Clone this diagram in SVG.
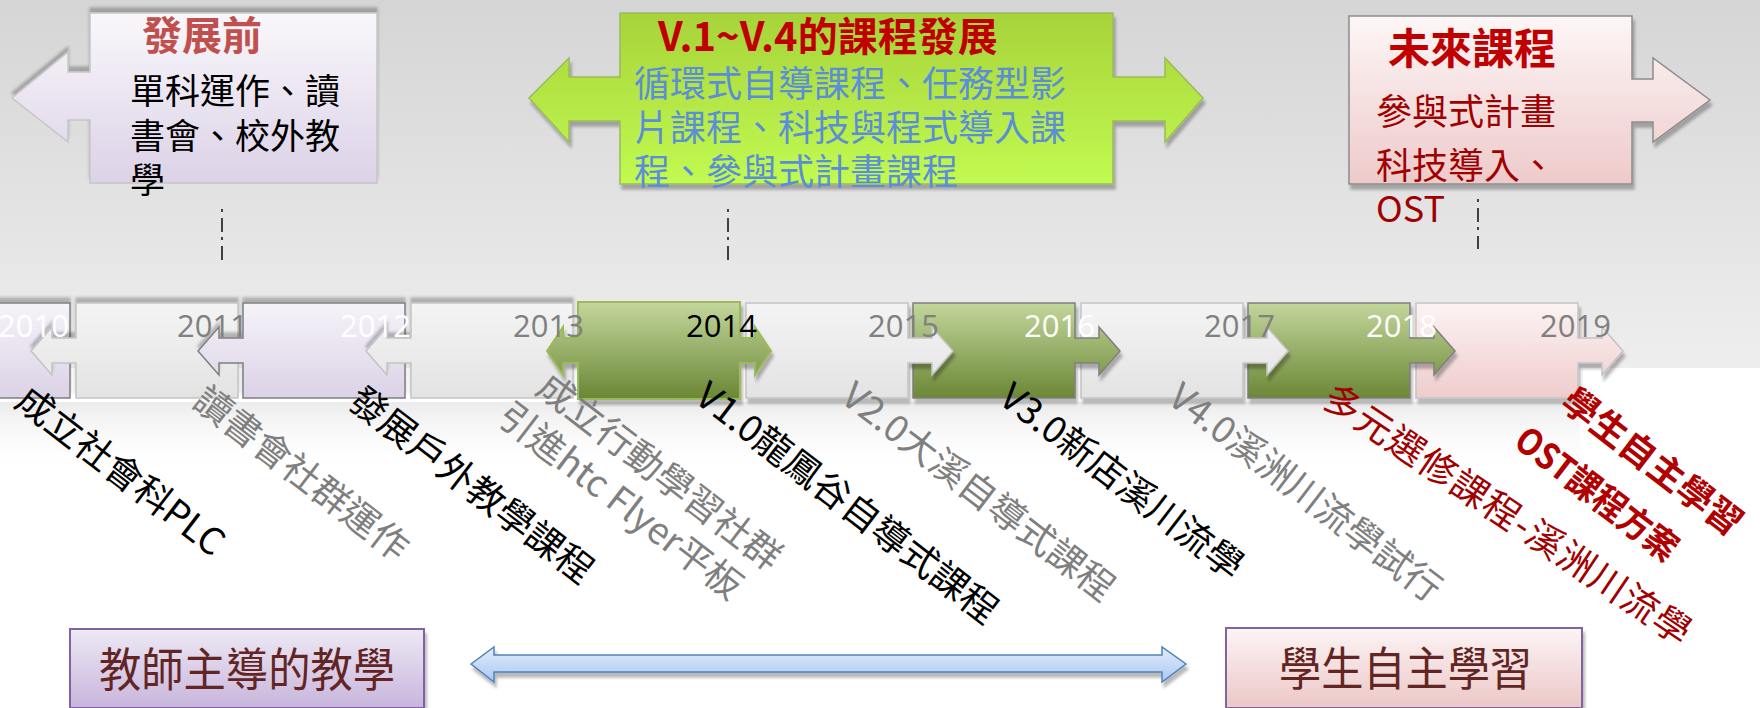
<svg xmlns="http://www.w3.org/2000/svg" width="1760" height="708" viewBox="0 0 1760 708">
<defs>
<style>
.cjk{font-family:"Noto Sans CJK TC","Noto Sans CJK SC",sans-serif}
.yr{font-family:"Open Sans","Liberation Sans",sans-serif;font-size:31px}
.lbl{font-family:"Noto Sans CJK TC","Noto Sans CJK SC",sans-serif;font-size:37px}
.gray{fill:#7f7f7f}
.blk{fill:#000}
.red{fill:#a00000}
.dot{stroke:#404040;stroke-width:2;stroke-dasharray:3 6 14 5;fill:none}
</style>
<linearGradient id="bg" x1="0" y1="0" x2="0" y2="1"><stop offset="0" stop-color="#d5d5d5"/><stop offset="1" stop-color="#eeeeee"/></linearGradient>
<linearGradient id="refl" x1="0" y1="0" x2="0" y2="1"><stop offset="0" stop-color="#e6e6e6" stop-opacity="0.8"/><stop offset="1" stop-color="#ffffff" stop-opacity="0"/></linearGradient>
<linearGradient id="tPurple" gradientUnits="userSpaceOnUse" x1="0" y1="303" x2="0" y2="398"><stop offset="0" stop-color="#f6f3f9"/><stop offset="1" stop-color="#dbd2e6"/></linearGradient>
<linearGradient id="tGray" gradientUnits="userSpaceOnUse" x1="0" y1="303" x2="0" y2="398"><stop offset="0" stop-color="#f4f4f4"/><stop offset="1" stop-color="#e3e3e3"/></linearGradient>
<linearGradient id="tGreen" gradientUnits="userSpaceOnUse" x1="0" y1="303" x2="0" y2="398"><stop offset="0" stop-color="#c3d69b"/><stop offset="1" stop-color="#6b8736"/></linearGradient>
<linearGradient id="tPink" gradientUnits="userSpaceOnUse" x1="0" y1="303" x2="0" y2="398"><stop offset="0" stop-color="#fcf3f3"/><stop offset="1" stop-color="#efcccc"/></linearGradient>
<linearGradient id="cPurple" x1="0" y1="0" x2="0" y2="1"><stop offset="0" stop-color="#f9f7fb"/><stop offset="1" stop-color="#dcd2e7"/></linearGradient>
<linearGradient id="cGreen" x1="0" y1="0" x2="0" y2="1"><stop offset="0" stop-color="#a7d33a"/><stop offset="1" stop-color="#c1fa51"/></linearGradient>
<linearGradient id="cPink" x1="0" y1="0" x2="0" y2="1"><stop offset="0" stop-color="#fdf6f6"/><stop offset="1" stop-color="#eecaca"/></linearGradient>
<linearGradient id="bPurple" x1="0" y1="0" x2="0" y2="1"><stop offset="0" stop-color="#eee9f4"/><stop offset="1" stop-color="#c7b5dc"/></linearGradient>
<linearGradient id="bPink" x1="0" y1="0" x2="0" y2="1"><stop offset="0" stop-color="#fcf4f4"/><stop offset="1" stop-color="#ecc7c7"/></linearGradient>
<linearGradient id="bBlue" x1="0" y1="0" x2="0" y2="1"><stop offset="0" stop-color="#e2ecfb"/><stop offset="1" stop-color="#a9c8f2"/></linearGradient>
<filter id="shDown" x="-10%" y="-20%" width="130%" height="150%"><feDropShadow dx="2" dy="5" stdDeviation="1.5" flood-color="#000" flood-opacity="0.28"/></filter>
<filter id="shUp" x="-10%" y="-30%" width="130%" height="150%"><feDropShadow dx="0" dy="-5" stdDeviation="1.5" flood-color="#000" flood-opacity="0.25"/></filter>
</defs>

<rect width="1760" height="708" fill="#ffffff"/>
<rect x="0" y="0" width="1760" height="368" fill="url(#bg)"/>
<rect x="0" y="402" width="1580" height="70" fill="url(#refl)"/>

<!-- top callouts -->
<g id="before">
<path d="M90,13 H377 V183 H90 V120 H68 V142 L12,98 L68,52 V72 H90 Z" fill="url(#cPurple)" stroke="#c6c6c6" stroke-width="1.5" filter="url(#shUp)"/>
<text class="cjk" x="202" y="50" font-size="40" font-weight="700" fill="#c0504d" text-anchor="middle">發展前</text>
<text class="cjk" font-size="35" fill="#000"><tspan x="130" y="104">單科運作、讀</tspan><tspan x="130" y="149">書會、校外教</tspan><tspan x="130" y="193">學</tspan></text>
</g>

<g id="v1v4">
<path d="M620,13 H1113 V77 H1165 V58 L1203,98 L1165,142 V121 H1113 V184 H620 V121 H569 V142 L529,98 L569,58 V77 H620 Z" fill="url(#cGreen)" stroke="#9bbb59" stroke-width="1.5" filter="url(#shDown)"/>
<text class="cjk" x="658" y="51" font-size="40" font-weight="700" fill="#c00000">V.1~V.4的課程發展</text>
<text class="cjk" font-size="36" fill="#5a8ed6"><tspan x="634" y="97">循環式自導課程、任務型影</tspan><tspan x="634" y="141">片課程、科技與程式導入課</tspan><tspan x="634" y="185">程、參與式計畫課程</tspan></text>
</g>

<g id="future">
<path d="M1349,16 H1632 V79 H1653 V58 L1710,100 L1653,142 V122 H1632 V184 H1349 Z" fill="url(#cPink)" stroke="#8c8c8c" stroke-width="1.5" filter="url(#shDown)"/>
<text class="cjk" x="1388" y="64" font-size="42" font-weight="700" fill="#c00000">未來課程</text>
<text class="cjk red" font-size="36"><tspan x="1376" y="125">參與式計畫</tspan><tspan x="1376" y="179">科技導入、</tspan><tspan x="1376" y="222">OST</tspan></text>
</g>

<!-- timeline blocks -->
<g id="y2010"><path d="M-92,303 H70 V398 H-92 V363 H-116 V375 L-137,351 L-116,327 V338 H-92 Z" fill="url(#tPurple)" stroke="#7f7f7f" stroke-width="1.5" filter="url(#shUp)"/></g>
<g id="y2011"><path d="M76,303 H238 V398 H76 V363 H52 V375 L31,351 L52,327 V338 H76 Z" fill="url(#tGray)" stroke="#c3c3c3" stroke-width="1.5" filter="url(#shUp)"/></g>
<g id="y2012"><path d="M243,303 H405 V398 H243 V363 H219 V375 L198,351 L219,327 V338 H243 Z" fill="url(#tPurple)" stroke="#7f7f7f" stroke-width="1.5" filter="url(#shUp)"/></g>
<g id="y2013"><path d="M411,303 H573 V398 H411 V363 H387 V375 L366,351 L387,327 V338 H411 Z" fill="url(#tGray)" stroke="#c3c3c3" stroke-width="1.5" filter="url(#shUp)"/></g>
<g id="y2019"><path d="M1416,303 H1578 V338 H1602 V327 L1623,351 L1602,375 V363 H1578 V398 H1416 Z" fill="url(#tPink)" stroke="#c3c3c3" stroke-width="1.5" filter="url(#shDown)"/></g>
<g id="y2018"><path d="M1248,303 H1410 V338 H1434 V327 L1455,351 L1434,375 V363 H1410 V398 H1248 Z" fill="url(#tGreen)" stroke="#7f7f7f" stroke-width="1.5" filter="url(#shDown)"/></g>
<g id="y2017"><path d="M1081,303 H1243 V338 H1267 V327 L1288,351 L1267,375 V363 H1243 V398 H1081 Z" fill="url(#tGray)" stroke="#c3c3c3" stroke-width="1.5" filter="url(#shDown)"/></g>
<g id="y2016"><path d="M913,303 H1075 V338 H1099 V327 L1120,351 L1099,375 V363 H1075 V398 H913 Z" fill="url(#tGreen)" stroke="#7f7f7f" stroke-width="1.5" filter="url(#shDown)"/></g>
<g id="y2015"><path d="M746,303 H908 V338 H932 V327 L953,351 L932,375 V363 H908 V398 H746 Z" fill="url(#tGray)" stroke="#c3c3c3" stroke-width="1.5" filter="url(#shDown)"/></g>
<g id="y2014"><path d="M578,302 H740 V338 H755 V327 L771,351 L755,375 V363 H740 V399 H578 V363 H563 V375 L547,351 L563,327 V338 H578 Z" fill="url(#tGreen)" stroke="#9bbb59" stroke-width="2" filter="url(#shDown)"/></g>

<g id="years" class="yr">
<text x="-2" y="337" fill="#ffffff">2010</text>
<text x="177" y="337" fill="#808080">2011</text>
<text x="340" y="337" fill="#ffffff">2012</text>
<text x="513" y="337" fill="#808080">2013</text>
<text x="686" y="337" fill="#000000">2014</text>
<text x="868" y="337" fill="#808080">2015</text>
<text x="1024" y="337" fill="#ffffff">2016</text>
<text x="1204" y="337" fill="#808080">2017</text>
<text x="1366" y="337" fill="#ffffff">2018</text>
<text x="1540" y="337" fill="#808080">2019</text>
</g>

<g id="labels" class="lbl">
<text class="blk" transform="translate(13,405) rotate(37.5)">成立社會科PLC</text>
<text class="gray" transform="translate(191,405) rotate(37.5)">讀書會社群運作</text>
<text class="blk" transform="translate(346,405) rotate(37.5)">發展戶外教學課程</text>
<text class="gray" transform="translate(534,392) rotate(37.5)">成立行動學習社群</text>
<text class="gray" transform="translate(495,421) rotate(37.5)">引進htc Flyer平板</text>
<text class="blk" transform="translate(693,401) rotate(37.5)">V1.0龍鳳谷自導式課程</text>
<text class="gray" transform="translate(839,401) rotate(37.5)">V2.0大溪自導式課程</text>
<text class="blk" transform="translate(997,402) rotate(37.5)">V3.0新店溪川流學</text>
<text class="gray" transform="translate(1166,402) rotate(37.5)">V4.0溪洲川流學試行</text>
<text class="red" transform="translate(1320,404) rotate(34)" textLength="434" lengthAdjust="spacing">多元選修課程-溪洲川流學</text>
<text fill="#b00000" font-weight="700" font-size="36" transform="translate(1559,406) rotate(37.5)">學生自主學習</text>
<text fill="#b00000" font-weight="700" font-size="36" transform="translate(1512,445) rotate(37.5)" textLength="194" lengthAdjust="spacingAndGlyphs">OST課程方案</text>
</g>

<!-- bottom -->
<g id="teacher">
<rect x="70" y="629" width="354" height="79" fill="url(#bPurple)" stroke="#8064a2" stroke-width="2" filter="url(#shDown)"/>
<text class="cjk" x="99" y="686" font-size="46" fill="#632523" textLength="296" lengthAdjust="spacingAndGlyphs">教師主導的教學</text>
</g>
<g id="student">
<rect x="1226" y="628" width="356" height="80" fill="url(#bPink)" stroke="#8064a2" stroke-width="2" filter="url(#shDown)"/>
<text class="cjk" x="1279" y="685" font-size="46" fill="#632523" textLength="253" lengthAdjust="spacingAndGlyphs">學生自主學習</text>
</g>

<g id="connectors">
<line class="dot" x1="222" y1="209" x2="222" y2="260"/>
<line class="dot" x1="728" y1="209" x2="728" y2="260"/>
<line class="dot" x1="1478" y1="199" x2="1478" y2="249"/>
<path d="M471,664 L494,647 V655 H1162 V647 L1186,664 L1162,682 V672 H494 V682 Z" fill="url(#bBlue)" stroke="#4f81bd" stroke-width="1.5" filter="url(#shDown)"/>
</g>
</svg>
